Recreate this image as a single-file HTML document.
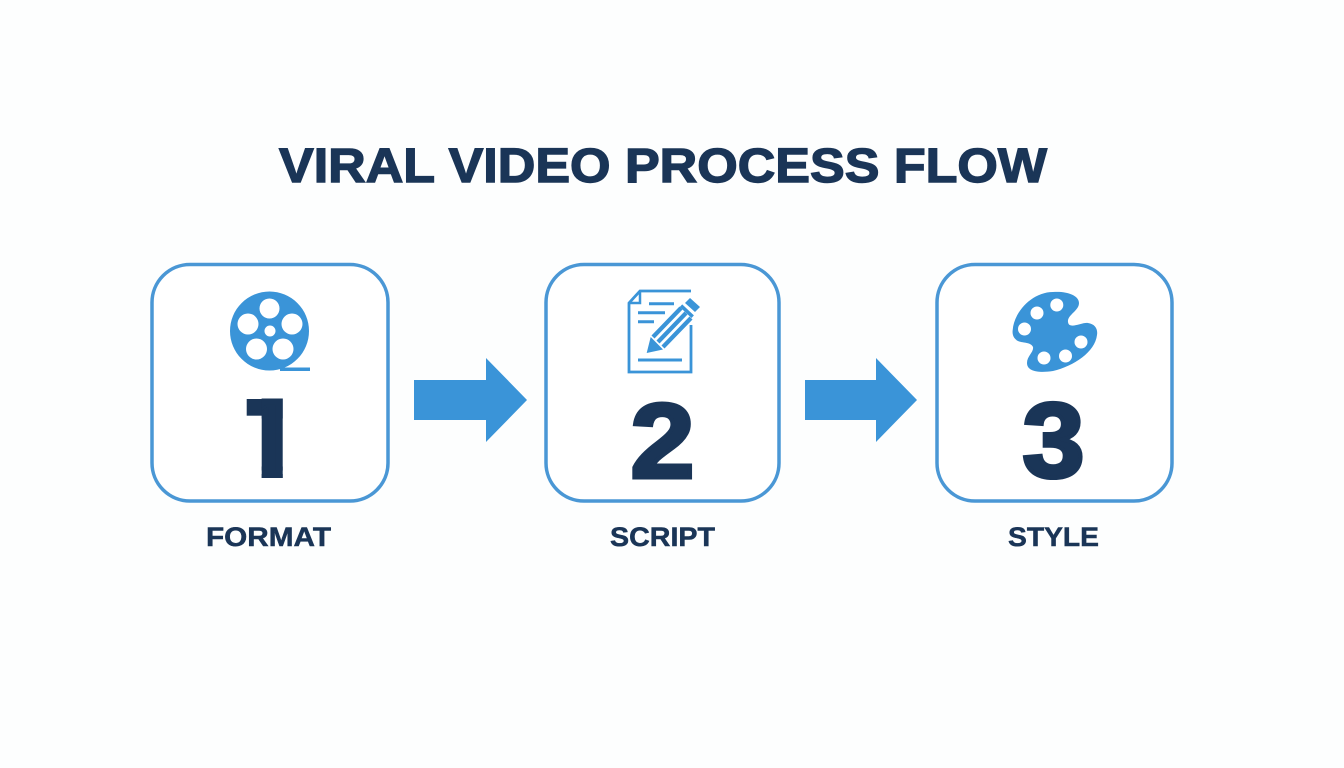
<!DOCTYPE html>
<html><head><meta charset="utf-8"><style>html,body{margin:0;padding:0;background:#fdfefe}svg{display:block}text{font-family:"Liberation Sans",sans-serif;font-weight:700;fill:#1a3557;stroke:#1a3557}</style></head>
<body><svg width="1344" height="768" viewBox="0 0 1344 768" xmlns="http://www.w3.org/2000/svg">
<defs><clipPath id="one"><rect x="261.700" y="398.500" width="21" height="79.500"/></clipPath></defs>
<rect width="1344" height="768" fill="#fdfefe"/>
<text x="279" y="182" font-size="48.500" stroke-width="1.400" textLength="768" lengthAdjust="spacingAndGlyphs">VIRAL VIDEO PROCESS FLOW</text>
<g fill="#fff" stroke="#4a97d5" stroke-width="3.500">
<rect x="152" y="264.500" width="236" height="236.500" rx="38"/>
<rect x="546" y="264.500" width="233" height="236.500" rx="38"/>
<rect x="937" y="264.500" width="235" height="236.500" rx="38"/>
</g>
<g fill="#3a94d8">
<polygon points="414,380 486,380 486,358 527,400 486,442 486,420 414,420"/>
<polygon points="805,380 876,380 876,358 917,400 876,442 876,420 805,420"/>
<path fill-rule="evenodd" d="M230 331a39.500 39.500 0 1 0 79 0a39.500 39.500 0 1 0-79 0ZM259.500 308.500a10 10 0 1 0 20 0a10 10 0 1 0-20 0ZM237.500 324a10.500 10.500 0 1 0 21 0a10.500 10.500 0 1 0-21 0ZM281.500 324a10.500 10.500 0 1 0 21 0a10.500 10.500 0 1 0-21 0ZM246 349a10.500 10.500 0 1 0 21 0a10.500 10.500 0 1 0-21 0ZM272.500 349a10.500 10.500 0 1 0 21 0a10.500 10.500 0 1 0-21 0ZM264.500 331a5.500 5.500 0 1 0 11 0a5.500 5.500 0 1 0-11 0Z"/>
<rect x="280" y="367.500" width="30" height="3.500"/>
<path fill-rule="evenodd" d="M1012.700 330C1014 312 1032 292 1053 292C1066 291 1079 295 1079 303C1079 311 1067 315 1068 322C1069 330 1082 322 1088 323C1095 324 1098 329 1097 335C1095 352 1074 366 1053 371C1040 373 1027 372 1027 363C1027 356 1034 352 1033 347C1031 342 1022 343 1018 341C1014 339 1012 335 1012.700 330ZM1050.300 305a6.500 6.500 0 1 0 13 0a6.500 6.500 0 1 0-13 0ZM1030.500 313a6.500 6.500 0 1 0 13 0a6.500 6.500 0 1 0-13 0ZM1018 329a6.500 6.500 0 1 0 13 0a6.500 6.500 0 1 0-13 0ZM1074.500 342a6.500 6.500 0 1 0 13 0a6.500 6.500 0 1 0-13 0ZM1059 356a6.500 6.500 0 1 0 13 0a6.500 6.500 0 1 0-13 0ZM1037.500 358a6.500 6.500 0 1 0 13 0a6.500 6.500 0 1 0-13 0Z"/>
</g>
<g fill="none" stroke="#3a94d8" stroke-width="2.800">
<path d="M691 291H640L629 303V372H691V325"/>
<path d="M640 291V303H629" stroke-width="2.500"/>
<path d="M649 303.700H674M638 312.700H665M638 321.700H654M638 360H682" stroke-width="3"/>
<path d="M653 337L681 308M658 342L686 313M663 347L691 318" stroke-width="4.200"/>
<path d="M681 305.700L692.700 316.700" stroke-width="3.500"/>
</g>
<g fill="#3a94d8">
<polygon points="646.700,353 650.700,337 663,349.500"/>
<polygon points="685,303 690,298 700,307 695,312"/>
</g>
<rect x="246.700" y="399" width="16" height="16.700" fill="#1a3557"/>
<rect x="261.700" y="398.500" width="21" height="20" fill="#1a3557"/>
<g stroke-width="4">
<text x="269" y="478" font-size="112" stroke-width="8" clip-path="url(#one)" text-anchor="middle">1</text>
<text x="630.500" y="477.500" font-size="106" textLength="64" lengthAdjust="spacingAndGlyphs">2</text>
<text x="1022.500" y="477" font-size="106" textLength="62" lengthAdjust="spacingAndGlyphs">3</text>
</g>
<g stroke-width=".5" font-size="26.500">
<text x="206" y="546" textLength="125" lengthAdjust="spacingAndGlyphs">FORMAT</text>
<text x="610" y="546" textLength="105" lengthAdjust="spacingAndGlyphs">SCRIPT</text>
<text x="1008" y="546" textLength="91" lengthAdjust="spacingAndGlyphs">STYLE</text>
</g>
</svg></body></html>
